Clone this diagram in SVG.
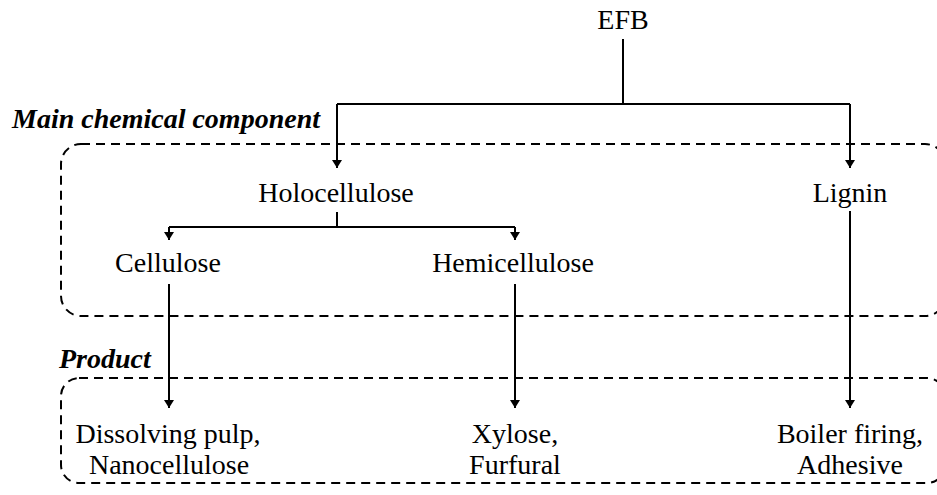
<svg xmlns="http://www.w3.org/2000/svg" width="937" height="495" viewBox="0 0 937 495">
  <style>
    .lbl { font-family: "Liberation Serif", "Times New Roman", serif; font-size: 28px; fill: #000; text-anchor: middle; }
    .sec { font-family: "Liberation Serif", "Times New Roman", serif; font-size: 28px; font-weight: bold; font-style: italic; fill: #000; }
    .conn { fill: none; stroke: #000; stroke-width: 2; }
    .zone { fill: none; stroke: #000; stroke-width: 2; stroke-dasharray: 9 6; }
  </style>
  <defs>
    <marker id="arrow" viewBox="0 0 8 10" refX="8" refY="5" markerWidth="4" markerHeight="5" markerUnits="strokeWidth" orient="auto">
      <path d="M0,0 L8,5 L0,10 z" fill="#000"/>
    </marker>
  </defs>
  <rect width="937" height="495" fill="#fff"/>

  <!-- dashed grouping zones -->
  <g id="zones">
    <rect class="zone" x="61" y="144" width="884" height="172" rx="20" ry="20"/>
    <rect class="zone" x="61" y="378" width="884" height="105" rx="18" ry="18"/>
    <text class="sec" x="12" y="128">Main chemical component</text>
    <text class="sec" x="59" y="368">Product</text>
  </g>

  <!-- connectors -->
  <g id="connectors">
    <path class="conn" d="M623,39 V104"/>
    <path class="conn" d="M337,104 H850"/>
    <path class="conn" d="M337,104 V168" marker-end="url(#arrow)"/>
    <path class="conn" d="M850,104 V168" marker-end="url(#arrow)"/>
    <path class="conn" d="M337,212 V227"/>
    <path class="conn" d="M169,227 H515"/>
    <path class="conn" d="M169,227 V240" marker-end="url(#arrow)"/>
    <path class="conn" d="M515,227 V240" marker-end="url(#arrow)"/>
    <path class="conn" d="M169,284 V408" marker-end="url(#arrow)"/>
    <path class="conn" d="M515,284 V408" marker-end="url(#arrow)"/>
    <path class="conn" d="M850,211 V408" marker-end="url(#arrow)"/>
  </g>

  <!-- nodes -->
  <g id="efb"><text class="lbl" x="623" y="29">EFB</text></g>
  <g id="holocellulose"><text class="lbl" x="336" y="202">Holocellulose</text></g>
  <g id="lignin"><text class="lbl" x="850" y="202">Lignin</text></g>
  <g id="cellulose"><text class="lbl" x="168" y="272">Cellulose</text></g>
  <g id="hemicellulose"><text class="lbl" x="513" y="272">Hemicellulose</text></g>
  <g id="cellulose-products">
    <text class="lbl" x="168" y="443">Dissolving pulp,</text>
    <text class="lbl" x="169" y="474">Nanocellulose</text>
  </g>
  <g id="hemicellulose-products">
    <text class="lbl" x="515" y="443">Xylose,</text>
    <text class="lbl" x="515" y="474">Furfural</text>
  </g>
  <g id="lignin-products">
    <text class="lbl" x="850" y="443">Boiler firing,</text>
    <text class="lbl" x="850" y="474">Adhesive</text>
  </g>
</svg>
